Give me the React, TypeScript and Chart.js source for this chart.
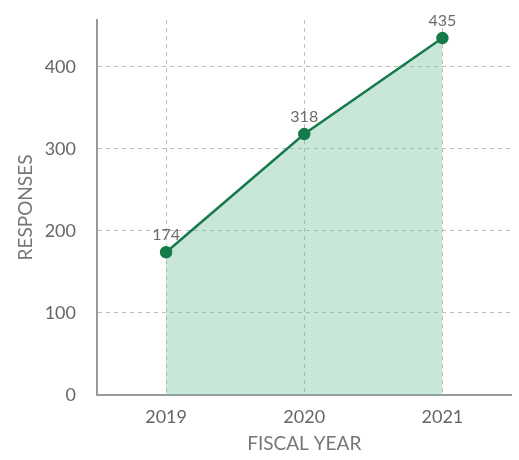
import React, { useEffect, useRef } from "react";
import { Chart, registerables } from "chart.js";

Chart.register(...registerables);

const categories = ["2019", "2020", "2021"];
const responses = [174, 318, 435];
const yTicks = [0, 100, 200, 300, 400];

const labelPlugin = {
  id: "pointLabels",
  afterDatasetsDraw(chart: any) {
    const ctx = chart.ctx;
    const meta = chart.getDatasetMeta(0);
    ctx.save();
    ctx.font = "16px Lato";
    ctx.fillStyle = "#6b6b6b";
    ctx.textAlign = "center";
    ctx.textBaseline = "middle";
    meta.data.forEach((pt: any, i: number) => {
      ctx.fillText(String(responses[i]), pt.x, pt.y - 17);
    });
    ctx.restore();
  },
};

export default function App() {
  const ref = useRef<HTMLCanvasElement>(null);
  useEffect(() => {
    document.body.style.margin = "0";
    const chart = new Chart(ref.current!, {
      type: "line",
      data: {
        labels: categories,
        datasets: [
          {
            data: responses,
            borderColor: "#167a4a",
            borderWidth: 2.5,
            backgroundColor: "rgba(120, 195, 160, 0.4)",
            fill: "origin",
            pointRadius: 5,
            pointBackgroundColor: "#167a4a",
            pointBorderColor: "#167a4a",
            tension: 0,
          },
        ],
      },
      options: {
        animation: false,
        responsive: false,
        maintainAspectRatio: false,
        layout: { padding: { top: 20, right: 7, left: 0, bottom: 0 } },
        plugins: { legend: { display: false }, tooltip: { enabled: false } },
        scales: {
          x: {
            offset: true,
            afterFit: (s: any) => { s.height = 65; s.paddingLeft = 0; s.paddingRight = 0; },
            grid: { color: "#bdbdbd", drawTicks: false, offset: false },
            border: { display: true, color: "#9a9a9a", width: 2, dash: [4, 4] },
            ticks: { padding: 11, color: "#666", font: { family: "Lato", size: 18 } },
            title: {
              display: true,
              text: "FISCAL YEAR",
              color: "#777",
              font: { family: "Lato", size: 19 },
              padding: { top: 0, bottom: 5 },
            },
          },
          y: {
            min: 0,
            max: 457,
            afterFit: (s: any) => { s.width = 97; s.paddingTop = 0; s.paddingBottom = 0; },
            afterBuildTicks: (s: any) => { s.ticks = yTicks.map((v) => ({ value: v })); },
            grid: { color: "#bdbdbd", drawTicks: false },
            border: { display: true, color: "#9a9a9a", width: 2, dash: [4, 4] },
            ticks: { padding: 21, color: "#666", font: { family: "Lato", size: 18 } },
            title: {
              display: true,
              text: "RESPONSES",
              color: "#777",
              font: { family: "Lato", size: 19 },
              padding: { top: 14, bottom: 0 },
            },
          },
        },
      },
      plugins: [labelPlugin],
    });
    return () => chart.destroy();
  }, []);
  return (
    <div style={{ position: "absolute", left: 0, top: 0, width: 519, height: 460 }}>
      <canvas ref={ref} width={519} height={460} style={{ display: "block" }} />
    </div>
  );
}
